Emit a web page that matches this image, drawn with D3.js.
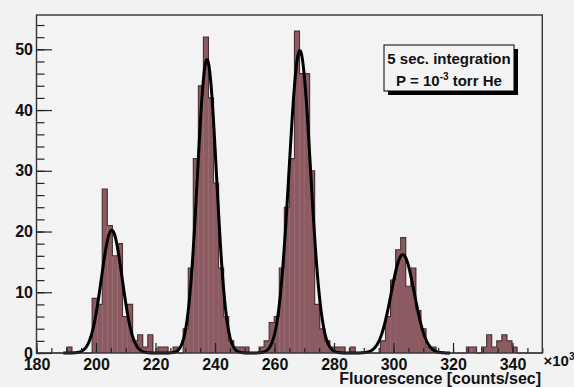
<!DOCTYPE html>
<html>
<head>
<meta charset="utf-8">
<script src="https://cdn.jsdelivr.net/npm/d3@7"></script>
<style>
  html, body { margin: 0; padding: 0; background: #f2f2f2; }
  svg { display: block; }
  text { font-family: "Liberation Sans", Arial, sans-serif; }
</style>
</head>
<body>
<svg id="chart" width="574" height="387"></svg>
<script>
// ---------------- data ----------------
const histRange = [180, 350];          // x in units of 10^3 counts/sec
const binWidth = 1.7;                   // 100 bins
const binCounts = [
  0, 0, 0, 0, 0, 0, 1, 0, 0, 0,        // 180 - 197
  0, 9, 8, 27, 21, 16, 18, 6, 8, 2,    // 197 - 214
  3, 1, 3, 0, 1, 1, 0, 1, 0, 4,        // 214 - 231
  14, 32, 44, 52, 42, 28, 14, 6, 2, 1, // 231 - 248
  1, 1, 0, 0, 1, 2, 5, 6, 14, 24,      // 248 - 265
  32, 53, 46, 46, 30, 8, 4, 2, 1, 1,   // 265 - 282
  1, 0, 1, 0, 0, 0, 0, 0, 2, 6,        // 282 - 299
  12, 17, 19, 11, 14, 7, 4, 1, 1, 0,   // 299 - 316
  0, 0, 0, 0, 0, 1, 1, 0, 1, 3,        // 316 - 333
  1, 2, 3, 2, 1, 0, 0, 0, 0, 0         // 333 - 350
];
// fitted sum of four Gaussians
const fitAmp   = [20.2, 48.3, 49.8, 16.2];
const fitMean  = [205.3, 237.3, 268.5, 303.1];
const fitSigma = [3.5, 3.2, 3.6, 3.9];
const fitRange = [189, 319];

const xMajorTicks = [180, 200, 220, 240, 260, 280, 300, 320, 340];
const yMajorTicks = [0, 10, 20, 30, 40, 50];
const legendLines = ["5 sec. integration", "P = 10", "-3", " torr He"];
const xTitle = "Fluorescence [counts/sec]";

// ---------------- layout ----------------
const svg = d3.select("#chart");
const L = 36.5, R = 542.3, T = 15, B = 353;
const yMax = 55.65;
const x = d3.scaleLinear().domain(histRange).range([L, R]);
const y = d3.scaleLinear().domain([0, yMax]).range([B, T]);

svg.append("rect").attr("width", 574).attr("height", 387).attr("fill", "#f2f2f2");
svg.append("rect").attr("x", L).attr("y", T).attr("width", R - L).attr("height", B - T)
  .attr("fill", "#f3f3f3");

// histogram bins
const bins = binCounts.map((c, i) => ({
  x0: histRange[0] + i * binWidth,
  x1: histRange[0] + (i + 1) * binWidth,
  c
}));

svg.append("g").selectAll("rect").data(bins.filter(d => d.c > 0)).join("rect")
  .attr("x", d => x(d.x0))
  .attr("y", d => y(d.c))
  .attr("width", d => x(d.x1) - x(d.x0) + 0.3)
  .attr("height", d => y(0) - y(d.c))
  .attr("fill", "#8c5b62");

// step outline
const stepPts = bins.map(d => [d.x0, d.c]);
stepPts.push([histRange[1], binCounts[binCounts.length - 1]]);
svg.append("path")
  .attr("d", d3.line().x(d => x(d[0])).y(d => y(d[1])).curve(d3.curveStepAfter)(stepPts))
  .attr("fill", "none").attr("stroke", "#4a3034").attr("stroke-width", 1.1);

// fit curve
const fitFn = v => fitAmp.reduce((s, a, k) =>
  s + a * Math.exp(-0.5 * Math.pow((v - fitMean[k]) / fitSigma[k], 2)), 0);
const fitX = d3.range(fitRange[0], fitRange[1] + 0.001, 0.2);
svg.append("path")
  .attr("d", d3.line().x(v => x(v)).y(v => y(fitFn(v)))(fitX))
  .attr("fill", "none").attr("stroke", "#000").attr("stroke-width", 3)
  .attr("stroke-linejoin", "round");

// axes
const tickColor = "#222";
const xMinor = d3.range(180, 350.01, 5);
const yMinor = d3.range(0, 55, 2);

const gxMinor = svg.append("g").attr("transform", `translate(0,${B})`)
  .call(d3.axisBottom(x).tickValues(xMinor).tickSize(-5).tickFormat(""));
const gx = svg.append("g").attr("transform", `translate(0,${B})`)
  .call(d3.axisBottom(x).tickValues(xMajorTicks).tickSize(-10).tickPadding(6).tickFormat(d3.format("d")));
const gyMinor = svg.append("g").attr("transform", `translate(${L},0)`)
  .call(d3.axisLeft(y).tickValues(yMinor).tickSize(-8).tickFormat(""));
const gy = svg.append("g").attr("transform", `translate(${L},0)`)
  .call(d3.axisLeft(y).tickValues(yMajorTicks).tickSize(-15.5).tickPadding(3.5).tickFormat(d3.format("d")));

[gxMinor, gx, gyMinor, gy].forEach(g => {
  g.select(".domain").remove();
  g.selectAll("line").attr("stroke", tickColor).attr("stroke-width", 1.2);
  g.selectAll("text").attr("fill", "#111").style("font-size", "16px").style("font-weight", "bold")
    .style("font-family", '"Liberation Sans", Arial, sans-serif');
});

// frame
svg.append("rect").attr("x", L).attr("y", T).attr("width", R - L).attr("height", B - T)
  .attr("fill", "none").attr("stroke", "#333").attr("stroke-width", 1.4);

// x10^3 exponent
const ex = svg.append("text").attr("x", 543.5).attr("y", 366)
  .attr("fill", "#111").style("font-size", "15px").style("font-weight", "bold");
ex.append("tspan").text("\u00d710");
ex.append("tspan").attr("dy", -6).style("font-size", "10px").text("3");

// x title
svg.append("text").attr("x", 541).attr("y", 384).attr("text-anchor", "end")
  .attr("fill", "#111").style("font-size", "16px").style("font-weight", "bold").text(xTitle);

// legend box
const lg = { x: 384, y: 45, w: 130, h: 46 };
svg.append("rect").attr("x", lg.x + 4).attr("y", lg.y + 4).attr("width", lg.w).attr("height", lg.h).attr("fill", "#000");
svg.append("rect").attr("x", lg.x).attr("y", lg.y).attr("width", lg.w).attr("height", lg.h)
  .attr("fill", "#f4f4f4").attr("stroke", "#000").attr("stroke-width", 1);
svg.append("text").attr("x", lg.x + lg.w / 2).attr("y", 64).attr("text-anchor", "middle")
  .attr("fill", "#111").style("font-size", "15px").style("font-weight", "bold").text(legendLines[0]);
const l2 = svg.append("text").attr("x", lg.x + lg.w / 2).attr("y", 86).attr("text-anchor", "middle")
  .attr("fill", "#111").style("font-size", "15px").style("font-weight", "bold");
l2.append("tspan").text(legendLines[1]);
l2.append("tspan").attr("dy", -6).style("font-size", "10px").text(legendLines[2]);
l2.append("tspan").attr("dy", 6).text(legendLines[3]);
</script>
</body>
</html>
